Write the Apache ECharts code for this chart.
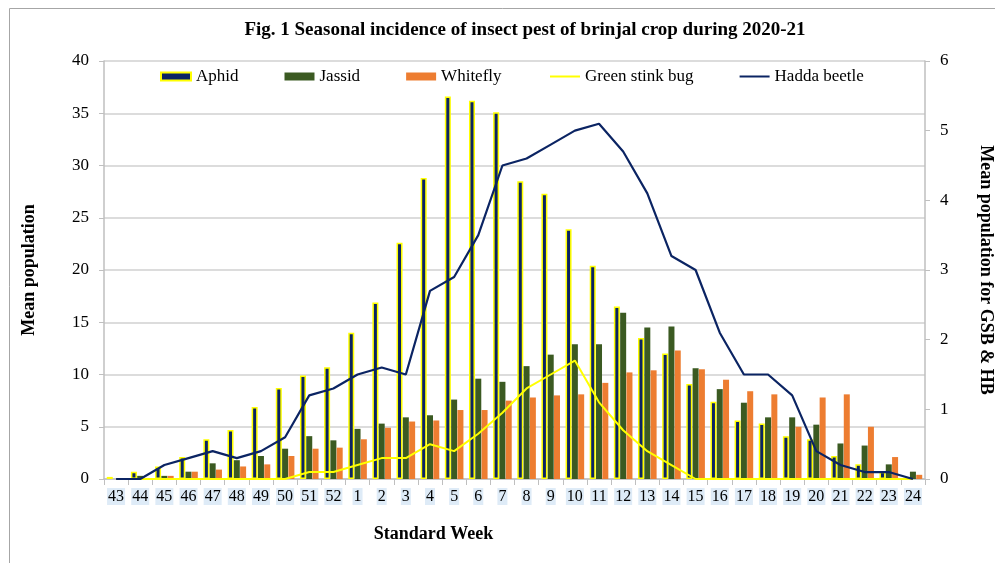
<!DOCTYPE html>
<html>
<head>
<meta charset="utf-8">
<script src="https://cdn.jsdelivr.net/npm/echarts@6/dist/echarts.min.js"></script>
<style>
  html, body { margin: 0; padding: 0; background: #fff; }
  #echarts { width: 995px; height: 563px; }
</style>
</head>
<body>
<div id="echarts"></div>
<script>
/** 数据 */
var weeks = ['43','44','45','46','47','48','49','50','51','52','1','2','3','4','5','6','7','8','9','10','11','12','13','14','15','16','17','18','19','20','21','22','23','24'] //标准周
var aphid = [0.2,0.7,1.2,2.1,3.8,4.7,6.9,8.7,9.9,10.7,14.0,16.9,22.6,28.8,36.6,36.2,35.1,28.5,27.3,23.9,20.4,16.5,13.5,12.0,9.1,7.4,5.6,5.3,4.1,3.8,2.2,1.4,0.7,0]
var jassid = [0,0.3,0.3,0.7,1.5,1.8,2.2,2.9,4.1,3.7,4.8,5.3,5.9,6.1,7.6,9.6,9.3,10.8,11.9,12.9,12.9,15.9,14.5,14.6,10.6,8.6,7.3,5.9,5.9,5.2,3.4,3.2,1.4,0.7]
var whitefly = [0,0.1,0.3,0.7,0.9,1.2,1.4,2.2,2.9,3.0,3.8,4.9,5.5,5.6,6.6,6.6,7.5,7.8,8.0,8.1,9.2,10.2,10.4,12.3,10.5,9.5,8.4,8.1,5.0,7.8,8.1,5.0,2.1,0.4]
var gsb = [0,0,0,0,0,0,0,0,0.1,0.1,0.2,0.3,0.3,0.5,0.4,0.65,0.95,1.3,1.5,1.7,1.1,0.7,0.4,0.2,0,0,0,0,0,0,0,0,0,0] //右轴
var hb = [0,0,0.2,0.3,0.4,0.3,0.4,0.6,1.2,1.3,1.5,1.6,1.5,2.7,2.9,3.5,4.5,4.6,4.8,5.0,5.1,4.7,4.1,3.2,3.0,2.1,1.5,1.5,1.2,0.4,0.2,0.1,0.1,0] //右轴

var font = '"Liberation Serif", "Times New Roman", serif'
var navy = '#0b2463'
var option
var myChart

/** 初始化option */
var initOption = function() {
	var legendText = { fontFamily: font, fontSize: 17, color: '#000' }
	option = {
		animation: false,
		textStyle: { fontFamily: font },
		title: {
			text: 'Fig. 1 Seasonal incidence of insect pest of brinjal crop during 2020-21',
			left: 520,
			textAlign: 'center',
			top: 16,
			textStyle: { fontFamily: font, fontSize: 19, fontWeight: 'bold', color: '#000' }
		},
		legend: [
			{ // 柱状图例
				left: 160, top: 68, padding: 0,
				itemWidth: 30, itemHeight: 8, itemGap: 46,
				textStyle: legendText,
				data: [
					{ name: 'Aphid', icon: 'rect' },
					{ name: 'Jassid', icon: 'rect' },
					{ name: 'Whitefly', icon: 'rect' }
				]
			},
			{ // 折线图例
				left: 550, top: 68, padding: 0,
				itemWidth: 30, itemHeight: 2, itemGap: 46,
				textStyle: legendText,
				data: [
					{ name: 'Green stink bug', icon: 'rect' },
					{ name: 'Hadda beetle', icon: 'rect' }
				]
			}
		],
		grid: { left: 104, right: 70, top: 61, bottom: 84, outerBoundsMode: 'none' },
		xAxis: {
			type: 'category',
			data: weeks,
			name: 'Standard Week',
			nameLocation: 'middle',
			nameGap: 46,
			nameTextStyle: { fontFamily: font, fontSize: 18, fontWeight: 'bold', color: '#000', padding: [0, 162, 0, 0] },
			axisLine: { lineStyle: { color: '#bfbfbf', width: 1.5 } },
			axisTick: { show: true, length: 6, lineStyle: { color: '#bfbfbf' } },
			axisLabel: {
				interval: 0,
				margin: 9,
				fontFamily: font,
				fontSize: 16,
				color: '#000',
				backgroundColor: '#deebf7',
				padding: [1, 1, 0, 1]
			}
		},
		yAxis: [
			{
				type: 'value',
				min: 0, max: 40, interval: 5,
				name: 'Mean population',
				nameLocation: 'middle',
				nameGap: 66,
				nameTextStyle: { fontFamily: font, fontSize: 18, fontWeight: 'bold', color: '#000' },
				axisLine: { show: true, lineStyle: { color: '#bfbfbf', width: 1.5 } },
				axisTick: { show: true, length: 5, lineStyle: { color: '#bfbfbf' } },
				axisLabel: { fontFamily: font, fontSize: 17, color: '#000', margin: 15 },
				splitLine: { lineStyle: { color: '#d0d0d0', width: 1.5 } }
			},
			{
				type: 'value',
				min: 0, max: 6, interval: 1,
				name: 'Mean population for GSB & HB',
				nameLocation: 'middle',
				nameGap: 52,
				nameRotate: -90,
				nameTextStyle: { fontFamily: font, fontSize: 18, fontWeight: 'bold', color: '#000' },
				axisLine: { show: true, lineStyle: { color: '#bfbfbf', width: 1.5 } },
				axisTick: { show: true, length: 5, lineStyle: { color: '#bfbfbf' } },
				axisLabel: { fontFamily: font, fontSize: 17, color: '#000', margin: 15 },
				splitLine: { show: false }
			}
		],
		series: [
			{
				name: 'Aphid', type: 'bar', data: aphid,
				barWidth: 6, barGap: '5%',
				itemStyle: { color: navy, borderColor: '#ffff00', borderWidth: 1.5 }
			},
			{
				name: 'Jassid', type: 'bar', data: jassid,
				barWidth: 6, barGap: '5%',
				itemStyle: { color: '#3b5a22' }
			},
			{
				name: 'Whitefly', type: 'bar', data: whitefly,
				barWidth: 6, barGap: '5%',
				itemStyle: { color: '#ed7d31' }
			},
			{
				name: 'Green stink bug', type: 'line', yAxisIndex: 1, data: gsb,
				symbol: 'none', z: 5,
				lineStyle: { color: '#ffff00', width: 2 },
				itemStyle: { color: '#ffff00' }
			},
			{
				name: 'Hadda beetle', type: 'line', yAxisIndex: 1, data: hb,
				symbol: 'none', z: 6,
				lineStyle: { color: navy, width: 2.2 },
				itemStyle: { color: navy }
			}
		],
		graphic: [
			{ // 外框
				type: 'rect', left: 7, top: 6, z: -1,
				shape: { width: 1000, height: 600 },
				style: { fill: 'none', stroke: '#a6a6a6', lineWidth: 1 }
			}
		]
	}
}

/** 初始化图表 */
var initChart = function() {
	myChart = echarts.init(document.getElementById('echarts'))
	myChart.setOption(option)
}

initOption()
initChart()
</script>
</body>
</html>
